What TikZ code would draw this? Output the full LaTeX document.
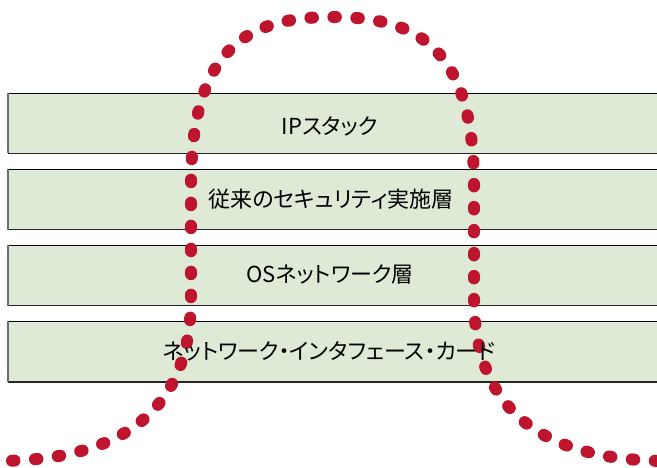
\documentclass[tikz,border=0pt]{standalone}
\usepackage{fontspec}
\newfontfamily\jp[RawFeature=+palt]{Noto Sans CJK JP}
\definecolor{barfill}{RGB}{222,234,214}
\definecolor{dotred}{RGB}{190,20,45}
\definecolor{edgegray}{RGB}{110,110,110}
\tikzset{
  bar/.style={fill=barfill, draw=none, minimum width=662pt, minimum height=60pt, inner sep=0pt, anchor=north west},
  label/.style={font=\jp\fontsize{22}{26}\selectfont, text=black, inner sep=0pt},
  dotline/.style={draw=dotred, line width=12pt, line cap=round, dash pattern=on 2.5pt off 20.5pt, dash phase=11pt},
}
\begin{document}
\begin{tikzpicture}[x=1pt,y=-1pt]
\useasboundingbox (0,0) rectangle (657,468);
\clip (0,0) rectangle (657,468);
\foreach \n/\y in {b1/93, b2/169.5, b3/245.5, b4/321.5}{
  \node[bar] (\n) at (8,\y) {};
  \draw[black, line width=0.9pt] (\n.north west) -- (\n.north east);
  \draw[black!85, line width=1.2pt] (\n.south west) -- (\n.south east);
  \draw[edgegray, line width=1.6pt] (\n.north west) -- (\n.south west);
}
\draw[dotline] (0,461) .. controls (110,460) and (190,420) .. (191,300) -- (191,190)
  .. controls (190,50) and (245,17) .. (332.5,17)
  .. controls (420,17) and (475,50) .. (474,190) -- (474,300)
  .. controls (475,420) and (555,460) .. (665,461);
\node[label] (t1) at (330,126) {IPスタック};
\node[label] (t2) at (331,199) {従来のセキュリティ実施層};
\node[label] (t3) at (330,275) {OSネットワーク層};
\node[label] (t4) at (329,351) {ネットワーク・インタフェース・カード};
\end{tikzpicture}
\end{document}
